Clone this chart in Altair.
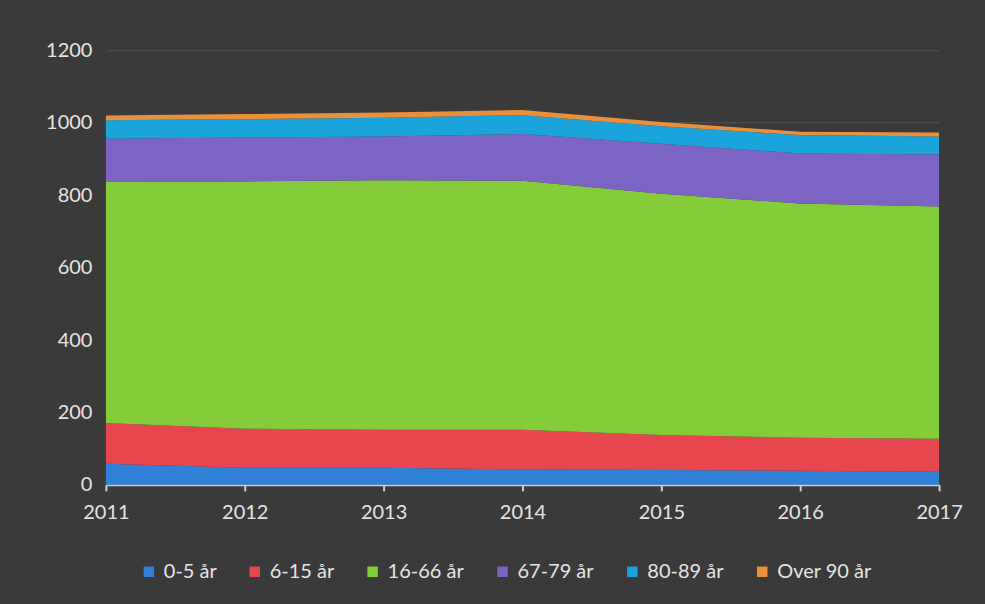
import altair as alt
import pandas as pd

years = [2011, 2012, 2013, 2014, 2015, 2016, 2017]
groups = ["0-5 år", "6-15 år", "16-66 år", "67-79 år", "80-89 år", "Over 90 år"]
colors = ["#2f80d6", "#e8464e", "#84cc3a", "#7b64c4", "#1ba3dc", "#e8903a"]

age_0_5 = [58, 47, 47, 43, 41, 39, 36]
age_6_15 = [113, 108, 105, 109, 97, 91, 91]
age_16_66 = [665, 683, 689, 688, 666, 647, 642]
age_67_79 = [120, 121, 121, 129, 138, 138, 143]
age_80_89 = [51, 51, 52, 52, 48, 51, 50]
age_90 = [13, 14, 14, 14, 12, 9, 11]

series = [age_0_5, age_6_15, age_16_66, age_67_79, age_80_89, age_90]
rows = []
for i, (g, vals) in enumerate(zip(groups, series)):
    for y, v in zip(years, vals):
        rows.append({"year": y, "group": g, "value": v, "idx": i})
df = pd.DataFrame(rows)

FONT = "Lato, Roboto, sans-serif"
TXT = "#e4e4e4"
BG = "#3a3a3a"

chart = alt.Chart(df).mark_area(opacity=1).encode(
    x=alt.X("year:Q",
            scale=alt.Scale(domain=[2011, 2017], nice=False, zero=False),
            axis=alt.Axis(values=years, format="d", title=None, grid=False,
                          labelColor=TXT, labelFontSize=20, labelFont=FONT,
                          labelPadding=12, domainColor="#cfcfcf", domainWidth=2,
                          tickColor="#cfcfcf", tickSize=6, tickWidth=2,
                          labelFlush=False)),
    y=alt.Y("value:Q", stack="zero",
            scale=alt.Scale(domain=[0, 1200], nice=False),
            axis=alt.Axis(values=[0, 200, 400, 600, 800, 1000, 1200], format="d",
                          title=None, domain=False, ticks=False, grid=True,
                          gridColor="#525252",
                          labelColor=TXT, labelFontSize=20, labelFont=FONT,
                          labelPadding=14)),
    color=alt.Color("group:N",
                    scale=alt.Scale(domain=groups, range=colors),
                    legend=alt.Legend(title=None, orient="none", direction="horizontal",
                                      legendX=33, legendY=512,
                                      symbolType="square", symbolSize=110,
                                      labelColor=TXT, labelFontSize=20, labelFont=FONT,
                                      columnPadding=28, labelOffset=5)),
    order=alt.Order("idx:Q", sort="ascending"),
).properties(
    width=834, height=435, background=BG,
    padding={"left": 45, "top": 40, "right": 22, "bottom": 120},
).configure_view(stroke=None)

chart.save("out.html", embed_options={"renderer": "svg", "actions": False})
